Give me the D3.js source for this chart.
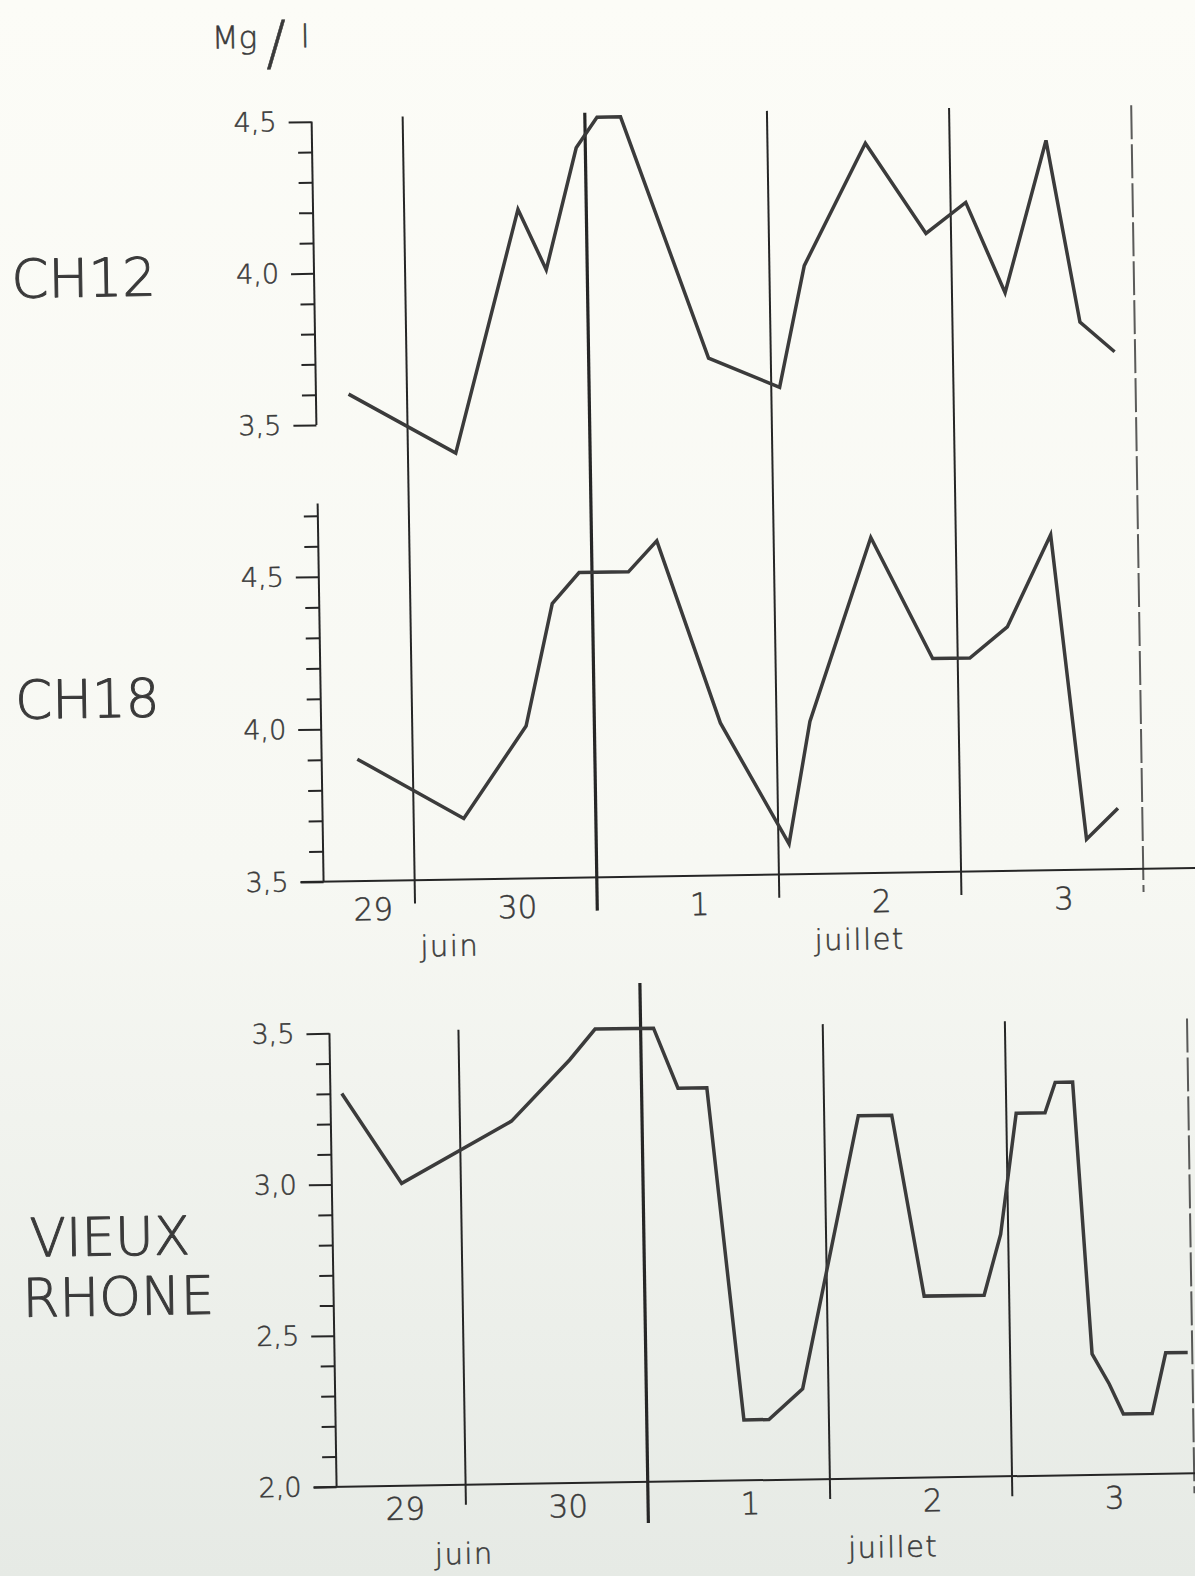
<!DOCTYPE html>
<html>
<head>
<meta charset="utf-8">
<script src="https://cdn.jsdelivr.net/npm/d3@7"></script>
<style>
  body { margin: 0; background: #f7f7f2; overflow: hidden; }
  svg text { font-family: "DejaVu Sans", sans-serif; font-weight: 200; }
</style>
</head>
<body>
<svg id="chart"></svg>
<script>
// Day and month names along the time axis
var dayNames = ["29", "30", "1", "2", "3"];
var monthNames = ["juin", "juillet"];
// Midnights (hours counted from 29 juin 0h)
var dayBreaks = [24, 48, 72, 96, 120];

// CH12 (Mg/l) - hours since 29 juin 0h
var ch12Hours = [16.3, 30.3, 39.0, 42.6, 46.8, 49.6, 52.7, 63.8, 73.1, 76.6, 84.9, 92.7, 98.0, 103.0, 108.7, 112.8, 117.3];
var ch12Values = [3.6, 3.4, 4.2, 4.0, 4.4, 4.5, 4.5, 3.7, 3.6, 4.0, 4.4, 4.1, 4.2, 3.9, 4.4, 3.8, 3.7];

// CH18 (Mg/l)
var ch18Hours = [16.7, 30.6, 39.0, 42.7, 46.3, 52.8, 56.6, 64.6, 73.4, 76.4, 84.8, 92.7, 97.6, 102.6, 108.5, 112.6, 116.8];
var ch18Values = [3.9, 3.7, 4.0, 4.4, 4.5, 4.5, 4.6, 4.0, 3.6, 4.0, 4.6, 4.2, 4.2, 4.3, 4.6, 3.6, 3.7];

// Vieux Rhone (Mg/l)
var vrHours = [8.5, 16.2, 30.8, 38.6, 42.0, 49.7, 52.8, 56.6, 60.8, 64.1, 68.6, 76.5, 80.9, 84.8, 92.7, 95.0, 97.3, 101.1, 102.5, 104.8, 106.8, 109.0, 110.8, 114.6, 116.5, 119.4];
var vrValues = [3.3, 3.0, 3.2, 3.4, 3.5, 3.5, 3.3, 3.3, 2.2, 2.2, 2.3, 3.2, 3.2, 2.6, 2.6, 2.8, 3.2, 3.2, 3.3, 3.3, 2.4, 2.3, 2.2, 2.2, 2.4, 2.4];

// Tick values of the three value axes
var ch12Ticks = d3.range(35, 46).map(function (d) { return d / 10; });
var ch18Ticks = d3.range(35, 48).map(function (d) { return d / 10; });
var vrTicks = d3.range(20, 36).map(function (d) { return d / 10; });

// Sizes
var width = 1195, height = 1576;
var PX_PER_HOUR = 7.59;
var INK = "#262626";
var LINE_INK = "#3b3b3b";
var TEXT_INK = "#3a3a3a";

var svg = d3.select("#chart")
    .attr("width", width)
    .attr("height", height);

// Paper background, a bit greyer towards the bottom of the scan
var grad = svg.append("defs").append("linearGradient")
    .attr("id", "paper")
    .attr("x1", 0).attr("y1", 0).attr("x2", 0).attr("y2", 1);
grad.append("stop").attr("offset", "0%").attr("stop-color", "#fcfcf7");
grad.append("stop").attr("offset", "55%").attr("stop-color", "#f7f8f3");
grad.append("stop").attr("offset", "100%").attr("stop-color", "#e6eae5");
svg.append("rect").attr("width", width).attr("height", height).attr("fill", "url(#paper)");

// The scanned sheet is turned by almost one degree
var page = svg.append("g").attr("transform", "rotate(-0.9,320,877)");

// Time scales: the upper block starts at noon of the 29th, the lower one earlier
var topX = d3.scaleLinear().domain([12, 130]).range([323.5, 323.5 + 118 * PX_PER_HOUR]);
var vrX = d3.scaleLinear().domain([7, 130]).range([327, 327 + 123 * PX_PER_HOUR]);

// Value scales
var yCh12 = d3.scaleLinear().domain([3.5, 4.5]).range([425, 121.6]);
var yCh18 = d3.scaleLinear().domain([3.5, 4.5]).range([881.8, 576.7]);
var yVr = d3.scaleLinear().domain([2.0, 3.5]).range([1487, 1033.4]);

var fmtComma = function (v) { return d3.format(".1f")(v).replace(".", ","); };
var isMajor = function (v) { return Math.abs(v * 2 - Math.round(v * 2)) < 1e-6; };

// Stencil lettering: thin font with a light outline to thicken it a little
function lettering(sel, w) {
  sel.attr("fill", TEXT_INK)
     .attr("stroke", TEXT_INK)
     .attr("stroke-width", w)
     .attr("stroke-linejoin", "round");
}

// Value axis with long ticks on the half units and short ones between
function drawValueAxis(x0, y, ticks, topValue) {
  var axis = d3.axisLeft(y)
      .tickValues(ticks)
      .tickSize(14)
      .tickPadding(0)
      .tickFormat(function (d) { return isMajor(d) ? fmtComma(d) : ""; });

  var ax = page.append("g")
      .attr("transform", "translate(" + x0 + ",0)")
      .call(axis)
      .attr("font-size", 27)
      .attr("font-family", "DejaVu Sans, sans-serif");

  ax.select(".domain").remove();
  ax.selectAll(".tick line")
      .attr("x2", function (d) { return isMajor(d) ? -23 : -14; })
      .attr("stroke", INK)
      .attr("stroke-width", 2);
  ax.selectAll(".tick text")
      .attr("x", -35)
      .call(lettering, 0.5);

  page.append("line")
      .attr("x1", x0).attr("x2", x0)
      .attr("y1", y(topValue)).attr("y2", y(y.domain()[0]))
      .attr("stroke", INK)
      .attr("stroke-width", 2);
}

// Vertical lines at midnight; the change of month is drawn heavier
function drawDayBreaks(x, y1, y2, monthY1, monthY2) {
  page.append("g")
      .selectAll("line")
      .data(dayBreaks)
      .enter().append("line")
      .attr("x1", function (d) { return x(d); })
      .attr("x2", function (d) { return x(d); })
      .attr("y1", function (d) { return d === 48 ? monthY1 : y1; })
      .attr("y2", function (d) { return d === 48 ? monthY2 : y2; })
      .attr("stroke", INK)
      .attr("stroke-width", function (d) { return d === 48 ? 3.2 : 2; })
      .attr("stroke-dasharray", function (d) { return d === 120 ? "34,5" : null; })
      .attr("opacity", function (d) { return d === 120 ? 0.75 : 1; });
}

function drawTimeAxis(x, y0, dayY, monthY, monthShift) {
  var start = x.domain()[0];

  page.append("line")
      .attr("x1", x(start) - 23).attr("x2", width + 60)
      .attr("y1", y0).attr("y2", y0)
      .attr("stroke", INK)
      .attr("stroke-width", 2);

  page.append("g")
      .selectAll("text")
      .data(dayNames)
      .enter().append("text")
      .attr("x", function (d, i) { return x(i === 0 ? (start + 24) / 2 + 0.5 : 24 * i + 13.5); })
      .attr("y", dayY)
      .attr("text-anchor", "middle")
      .attr("font-size", 31)
      .call(lettering, 0.5)
      .text(function (d) { return d; });

  var monthCenters = [(start + 48) / 2, (48 + 120) / 2];
  page.append("g")
      .selectAll("text")
      .data(monthNames)
      .enter().append("text")
      .attr("x", function (d, i) { return x(monthCenters[i] + monthShift); })
      .attr("y", monthY)
      .attr("text-anchor", "middle")
      .attr("font-size", 29)
      .attr("letter-spacing", 1.5)
      .call(lettering, 0.5)
      .text(function (d) { return d; });
}

function drawSeries(x, y, hours, values) {
  var line = d3.line()
      .x(function (d) { return x(d[0]); })
      .y(function (d) { return y(d[1]); });

  page.append("path")
      .datum(d3.zip(hours, values))
      .attr("d", line)
      .attr("fill", "none")
      .attr("stroke", LINE_INK)
      .attr("stroke-width", 3.5)
      .attr("stroke-linejoin", "miter");
}

// Upper block: CH12 and CH18 share the time axis
drawDayBreaks(topX, 118, 905, 117, 915);
drawValueAxis(topX(12), yCh12, ch12Ticks, 4.5);
drawValueAxis(topX(12), yCh18, ch18Ticks, 4.74);
drawTimeAxis(topX, yCh18(3.5), 921, 958, -1.5);
drawSeries(topX, yCh12, ch12Hours, ch12Values);
drawSeries(topX, yCh18, ch18Hours, ch18Values);

// Lower block: Vieux Rhone
drawDayBreaks(vrX, 1032, 1507, 988, 1528);
drawValueAxis(vrX(7), yVr, vrTicks, 3.5);
drawTimeAxis(vrX, yVr(2.0), 1521, 1566, -3.8);
drawSeries(vrX, yVr, vrHours, vrValues);

// Station names and unit
var names = [
  { text: "CH12", x: 21, y: 293 },
  { text: "CH18", x: 18, y: 714 },
  { text: "VIEUX", x: 24, y: 1252 },
  { text: "RHONE", x: 16, y: 1312 }
];
page.append("g")
    .selectAll("text")
    .data(names)
    .enter().append("text")
    .attr("x", function (d) { return d.x; })
    .attr("y", function (d) { return d.y; })
    .attr("font-size", 53)
    .call(lettering, 1)
    .text(function (d) { return d.text; });

var unit = page.append("g");
unit.append("text").attr("x", 225).attr("y", 47).attr("font-size", 31).call(lettering, 0.5).text("Mg");
unit.append("text").attr("x", 279).attr("y", 63).attr("font-size", 60).call(lettering, 0.6).text("/");
unit.append("text").attr("x", 314).attr("y", 47).attr("font-size", 31).call(lettering, 0.6).text("l");
</script>
</body>
</html>
